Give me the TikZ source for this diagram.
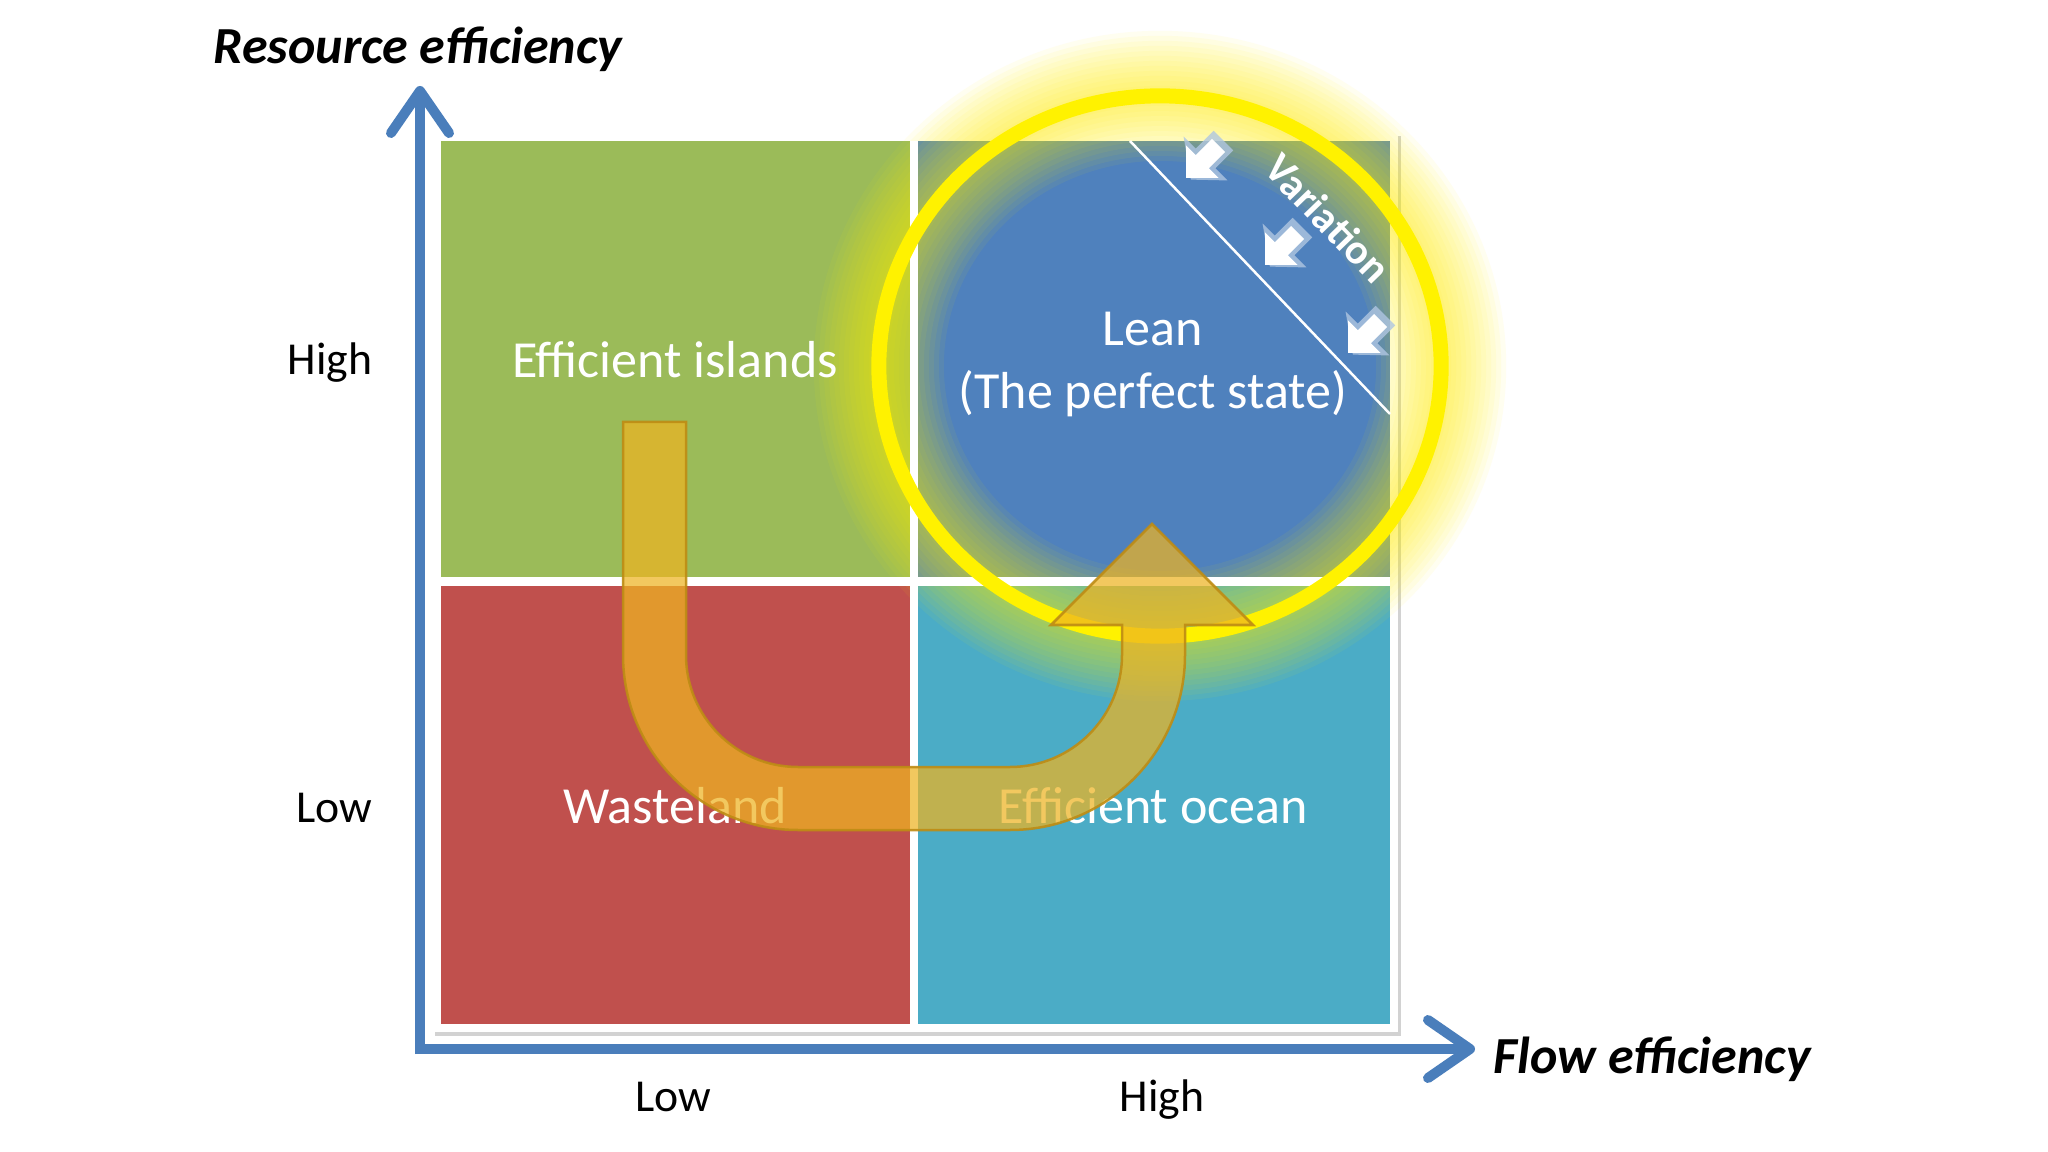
\documentclass[tikz,border=0pt]{standalone}
\usepackage{fontspec}
\setmainfont{Carlito}
\usetikzlibrary{arrows.meta}
\usetikzlibrary{shadows}
\definecolor{qgreen}{HTML}{9BBB59}
\definecolor{qblue}{HTML}{4F81BD}
\definecolor{qred}{HTML}{C0504D}
\definecolor{qaqua}{HTML}{4BACC6}
\definecolor{axisblue}{HTML}{4A7EBB}
\definecolor{flowgold}{RGB}{238,180,34}
\definecolor{flowedge}{RGB}{190,140,20}

\begin{document}
\begin{tikzpicture}[x=0.01cm, y=-0.01cm,
    quad/.style={inner sep=0pt, text=white, font=\fontsize{14.8}{17.8}\selectfont},
    tick/.style={inner sep=0pt, font=\fontsize{13}{15.6}\selectfont},
    axistitle/.style={inner sep=0pt, font=\fontsize{14.8}{17.8}\selectfont\bfseries\itshape},
    axisline/.style={axisblue, line width=1mm, -{Straight Barb[length=4.2mm, width=5.8mm, round]}}]
                \useasboundingbox (0,0) rectangle (2048,1152);
                \fill[white] (0,0) rectangle (2048,1152);
                % panel and quadrants
                \fill[white, drop shadow={opacity=0.35, shadow xshift=0.3mm, shadow yshift=-0.4mm}] (432,132) rectangle (1398,1032);
                \fill[qgreen] (441,141) rectangle (910,577);
                \fill[qblue] (918,141) rectangle (1390,577);
                \fill[qred] (441,586) rectangle (910,1024);
                \fill[qaqua] (918,586) rectangle (1390,1024);
                % glow round the lean state
                \foreach \w in {130,120,...,20}
                    \draw[yellow, opacity=0.06, line width={\w*0.1mm}] (1160,366) ellipse [x radius=2.81cm, y radius=2.70cm];
                \draw[white, line width=0.8mm] (914,141) -- (914,1024);
                \draw[white, line width=0.9mm] (441,581.5) -- (1390,581.5);
                \draw[yellow, line width=1.5mm] (1160,366) ellipse [x radius=2.81cm, y radius=2.70cm];
                % variation
                \draw[white, line width=0.25mm] (1130,141) -- (1390,414);
                \foreach \tx/\ty in {1186/178, 1265/265, 1348/353} {
                    \begin{scope}[shift={(\tx,\ty)}, rotate=225, scale=1.15]
                        \fill[white!55!qblue, opacity=0.8] (-2,-4) -- (-24,-27) -- (-24,-12) -- (-46,-12) -- (-46,12) -- (-24,12) -- (-24,27) -- cycle;
                        \fill[white] (0,0) -- (-20,-20) -- (-20,-8) -- (-40,-8) -- (-40,8) -- (-20,8) -- (-20,20) -- cycle;
                    \end{scope}
                }
                \node[inner sep=0pt, text=white, font=\fontsize{12}{14}\selectfont\bfseries, rotate=-46] (variation) at (1328,218) {Variation};
                % axes
                \coordinate (ybase) at (420,1054);
                \coordinate (ytip) at (420,86);
                \coordinate (xbase) at (415,1049);
                \coordinate (xtip) at (1475,1049);
                \draw[axisline] (ybase) -- (ytip);
                \draw[axisline] (xbase) -- (xtip);
                \node[axistitle, anchor=base] (restitle) at (418,64) {Resource efficiency};
                \node[axistitle, anchor=base west] (flowtitle) at (1493,1073) {Flow efficiency};
                \node[tick, anchor=base east] (yhigh) at (373,375) {High};
                \node[tick, anchor=base east] (ylow) at (373,822) {Low};
                \node[tick, anchor=base] (xlow) at (673,1111) {Low};
                \node[tick, anchor=base] (xhigh) at (1162,1111) {High};
                % quadrant labels
                \node[quad, anchor=base] (islands) at (675,378) {Efficient islands};
                \node[quad, anchor=base] (lean) at (1153,346) {Lean};
                \node[quad, anchor=base] (leanstate) at (1153,409) {(The perfect state)};
                \node[quad, anchor=base] (wasteland) at (675,823) {Wasteland};
                \node[quad, anchor=base] (ocean) at (1153,823) {Efficient ocean};
                % improvement path
                \filldraw[fill=flowgold, fill opacity=0.72, draw=flowedge, draw opacity=0.9, line width=0.25mm]
                    (623,422) -- (623,655) .. controls (623,751.7) and (701.3,830) .. (798,830)
                    -- (1010,830) .. controls (1106.7,830) and (1185,751.7) .. (1185,655)
                    -- (1185,625) -- (1253,625) -- (1152,524) -- (1051,625) -- (1122,625) -- (1122,655)
                    .. controls (1122,716.9) and (1071.9,767) .. (1010,767) -- (798,767)
                    .. controls (736.1,767) and (686,716.9) .. (686,655) -- (686,422) -- cycle;
\end{tikzpicture}
\end{document}
